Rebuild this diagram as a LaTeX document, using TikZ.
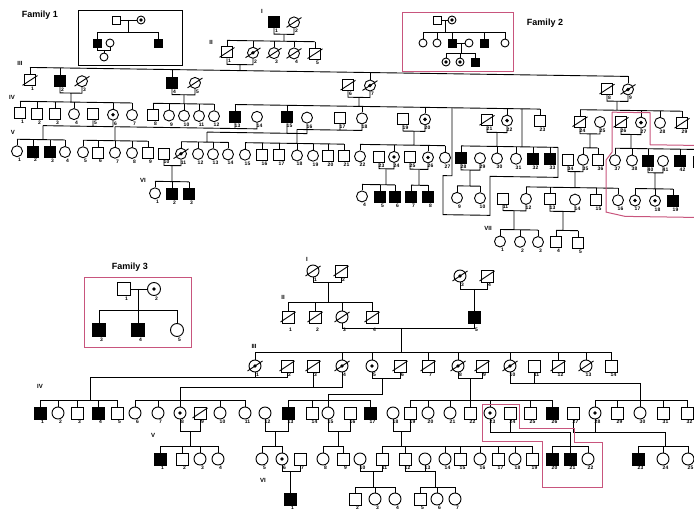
\documentclass[tikz,border=0pt]{standalone}
\usepackage{fontspec}
\setsansfont{Liberation Sans}
\usetikzlibrary{calc}
\definecolor{FamPink}{HTML}{C8557D}

\begin{document}
\begin{tikzpicture}[x=1pt, y=-1pt, line width=0.9pt, label distance=0pt,
  ind/.style={draw, inner sep=0pt, minimum size=11pt},
  m/.style={ind, rectangle},
  f/.style={ind, circle},
  ma/.style={m, fill=black},
  fc/.style={f, path picture={\fill (path picture bounding box.center) circle (1.9pt);}},
  dec/.style={append after command={([shift={(-7.5pt,-5pt)}]\tikzlastnode.center) edge ([shift={(7.5pt,5pt)}]\tikzlastnode.center)}},
  md/.style={m, dec}, fd/.style={f, dec}, fcd/.style={fc, dec},
  num/.style={font=\sffamily\bfseries\fontsize{5}{6}\selectfont, inner sep=0.6pt, xshift=2.5pt},
  gen/.style={font=\sffamily\bfseries\fontsize{6}{7}\selectfont},
  fam/.style={font=\sffamily\bfseries\fontsize{9}{10}\selectfont},
  famline/.style={FamPink, line width=1pt}]
\useasboundingbox (0,0) rectangle (694,513);
\clip (0,0) rectangle (694,513);

% ---- family 1, large pedigree (scan is a little tilted)
\begin{scope}[yslant=-0.015]
  \node[ma, label={[num]below:1}] (t1-1) at (274,18) {};
  \node[fd, label={[num]below:2}] (t1-2) at (294,18) {};
  \foreach \x/\s [count=\i] in {227/md,253/fcd,274/fd,294/fd,315/md}
    \node[\s, label={[num]below:\i}] (t2-\i) at (\x,49) {};
  \foreach \x/\s [count=\i] in {30/md,60/ma,82/fd,172/ma,195/fd,348/md,370/fcd,607/md,628/fcd}
    \node[\s, label={[num]below:\i}] (t3-\i) at (\x,80) {};
  \foreach \x/\s [count=\i] in {20/m,37/m,55/m,74/f,93/m,113/fc,132/f,153/m,169/f,184/f,199/f,214/f,
      235/ma,257/f,287/ma,307/f,340/m,362/f,403/m,425/fc,487/md,507/fc,540/m,580/md,600/f,621/md,641/fc,660/f,682/md}
    \node[\s, label={[num]below:\i}] (t4-\i) at (\x,113) {};
  \foreach \x/\s [count=\i] in {17/f,33/ma,50/ma,65/f,83/f,98/m,115/f,132/f,148/m,164/m,181/fcd,198/f,213/f,228/f,
      245/f,262/m,279/m,297/f,313/f,328/m,344/m,360/f,379/m,394/fc,410/m,428/fc,445/f,461/ma,480/f,497/f,
      516/f,533/ma,550/ma,568/m,583/f,598/m,615/f,632/f}
    \node[\s, label={[num]below:\i}] (t5-\i) at (\x,151) {};
  \foreach \x/\s/\i in {648/ma/40,663/f/41,680/ma/42}
    \node[\s, label={[num]below:\i}] (t5-\i) at (\x,151) {};
  \node[m] (t5-43) at (699,151) {};
  \foreach \x/\s [count=\i] in {155/f,172/ma,189/ma,362/f,380/ma,395/ma,411/ma,428/ma,457/f,480/f,
      503/m,526/f,550/m,575/f,596/m,618/f,635/fc,655/fc,673/ma}
    \node[\s, label={[num]below:\i}] (t6-\i) at (\x,191) {};
  \foreach \x/\s [count=\i] in {500/f,520/f,538/f,556/m,578/m}
    \node[\s, label={[num]below:\i}] (t7-\i) at (\x,234) {};

  % couples
  \foreach \d/\x/\y/\a/\b in {cI/284/30/t1-1/t1-2, cII/240/61/t2-1/t2-2,
      cIIIa/71/92/t3-2/t3-3, cIIIb/184/92/t3-4/t3-5, cIIIc/359/92/t3-6/t3-7, cIIId/617/92/t3-8/t3-9,
      cIVa/43/125/t4-5/t4-6, cIVb/115/125/t4-13/t4-14, cIVc/207/129/t4-15/t4-16, cIVd/297/125/t4-17/t4-18,
      cIVe/414/125/t4-19/t4-20, cIVf/497/125/t4-21/t4-22, cIVg/590/125/t4-24/t4-25, cIVh/631/125/t4-26/t4-27,
      cVa/172/163/t5-10/t5-11, cVb/386/163/t5-23/t5-24, cVc/419/163/t5-25/t5-26, cVd/470/163/t5-28/t5-29,
      cVe/575/163/t5-34/t5-35, cVf/655/163/t5-40/t5-41, cVIa/514/203/t6-11/t6-12, cVIb/563/203/t6-13/t6-14}
  {
    \coordinate (\d) at (\x,\y);
    \draw (\d) -| (\a) (\d) -| (\b);
  }
  % sibships
  \foreach \s/\g/\y/\xa/\xb/\d/\kids in {sII/t2/37/227/315/cI/{1,...,5}, sIII/t3/67/30/628/cII/{1,2,4,7,9},
      sIVa/t4/101/20/132/cIIIa/{1,2,3,4,6,7}, sIVb/t4/101/153/214/cIIIb/{8,...,12},
      sIVc/t4/101/235/540/cIIIc/{13,15,18,20,22,23}, sIVd/t4/101/580/682/cIIId/{24,27,28,29},
      sVa/t5/139/17/65/cIVa/{1,...,4}, sVb/t5/139/83/148/cIVb/{5,...,9}, sVc/t5/139/181/228/cIVc/{11,...,14},
      sVd/t5/139/245/344/cIVd/{15,...,21}, sVe/t5/139/360/445/cIVe/{22,24,26,27},
      sVf/t5/139/461/558/cIVf/{28,30,31,32,33}, sVg/t5/139/583/598/cIVg/{35,36},
      sVh/t5/139/615/699/cIVh/{37,38,40,42,43},
      sVIa/t6/179/155/189/cVa/{1,2,3}, sVIb/t6/179/362/395/cVb/{4,5,6}, sVIc/t6/179/411/428/cVc/{7,8},
      sVId/t6/179/457/480/cVd/{9,10}, sVIe/t6/179/526/618/cVe/{12,13,15,16}, sVIf/t6/179/635/673/cVf/{17,18,19},
      sVIIa/t7/222/500/538/cVIa/{1,2,3}, sVIIb/t7/222/556/578/cVIb/{4,5}}
  {
    \coordinate (\s-L) at (\xa,\y);
    \coordinate (\s-R) at (\xb,\y);
    \draw (\s-L) -- (\s-R) (\d) -- ($(\s-L)!(\d)!(\s-R)$);
    \foreach \k in \kids
      \draw (\g-\k) -- ($(\s-L)!(\g-\k)!(\s-R)$);
  }
  % outlines round the branch of family 2
  \draw (452,101) -- (452,169) -- (443,169) -- (443,208) -- (490,208) -- (490,169) -- (558,169) -- (558,139)
        (522,139) -- (522,101);
  \draw[famline] (612,103) -- (650,103) -- (650,135) -- (700,135)
        (612,103) -- (612,143) -- (606,151) -- (606,203) -- (625,207) -- (700,207);
\end{scope}

\node[gen] (gt1) at (262,11) {I};
\node[gen] (gt2) at (211,42) {II};
\node[gen] (gt3) at (20,63) {III};
\node[gen] (gt4) at (12,97) {IV};
\node[gen] (gt5) at (13,132) {V};
\node[gen] (gt6) at (143,180) {VI};
\node[gen] (gt7) at (488,228) {VII};

% ---- small boxes
\node[fam] (lab1) at (40,15) {Family 1};
\node[fam] (lab2) at (545,23) {Family 2};
\node[fam] (lab3) at (130,267) {Family 3};

\draw (78,10) rectangle (182,65);
\begin{scope}[ind/.append style={minimum size=8pt}]
  \node[m] (a-1) at (116,20) {};
  \node[fc] (a-2) at (141,20) {};
  \node[ma] (a-3) at (97,43) {};
  \node[f] (a-4) at (110,43) {};
  \node[ma] (a-5) at (158,43) {};
  \node[f] (a-6) at (104,57) {};
  \coordinate (a-c) at (128,20);
  \coordinate (a-s) at (128,32);
  \coordinate (a-d) at (104,50);
  \draw (a-1) -- (a-2) (a-c) -- (a-s) (a-3 |- a-s) -- (a-5 |- a-s);
  \draw (a-3) -- (a-3 |- a-s) (a-5) -- (a-5 |- a-s);
  \draw (a-d) -| (a-3) (a-d) -| (a-4) (a-d) -- (a-6);
\end{scope}

\draw[famline] (402,13) rectangle (513,72);
\begin{scope}[ind/.append style={minimum size=8pt}]
  \node[m] (e-1) at (437,20) {};
  \node[fc] (e-2) at (452,20) {};
  \foreach \x/\s [count=\i from 3] in {423/f,437/f,452/ma,469/f,484/ma,505/f}
    \node[\s] (e-\i) at (\x,43) {};
  \foreach \x/\s [count=\i from 9] in {446/fc,460/fc,475/ma}
    \node[\s] (e-\i) at (\x,62) {};
  \coordinate (e-c) at (445,20);
  \coordinate (e-s) at (445,32);
  \coordinate (e-g) at (461,43);
  \coordinate (e-t) at (461,53);
  \draw (e-1) -- (e-2) (e-c) -- (e-s) (e-3 |- e-s) -- (e-8 |- e-s);
  \foreach \k in {3,4,5,7,8} \draw (e-\k) -- (e-\k |- e-s);
  \draw (e-5) -- (e-6) (e-g) -- (e-t) (e-9 |- e-t) -- (e-11 |- e-t);
  \foreach \k in {9,10,11} \draw (e-\k) -- (e-\k |- e-t);
\end{scope}

\draw[famline] (84,278) rectangle (191,347);
\begin{scope}[ind/.append style={minimum size=13pt}]
  \node[m, label={[num]below:1}] (g-1) at (124,289) {};
  \node[fc, label={[num]below:2}] (g-2) at (154,289) {};
  \node[ma, label={[num]below:3}] (g-3) at (99,330) {};
  \node[ma, label={[num]below:4}] (g-4) at (138,330) {};
  \node[f, label={[num]below:5}] (g-5) at (177,330) {};
  \coordinate (g-c) at (138,289);
  \coordinate (g-s) at (138,310);
  \draw (g-1) -- (g-2) (g-c) -- (g-s) (g-3 |- g-s) -- (g-5 |- g-s);
  \foreach \k in {3,4,5} \draw (g-\k) -- (g-\k |- g-s);
\end{scope}

% ---- family 3, large pedigree
\begin{scope}[ind/.append style={minimum size=12pt}]
  \node[fd, label={[num]below:1}] (b1-1) at (313,271) {};
  \node[md, label={[num]below:2}] (b1-2) at (341,271) {};
  \node[fcd, label={[num]below:3}] (b1-3) at (460,276) {};
  \node[md, label={[num]below:4}] (b1-4) at (487,276) {};
  \foreach \x/\s [count=\i] in {288/md,315/md,342/fd,372/md,474/ma}
    \node[\s, label={[num, yshift=-4pt]below:\i}] (b2-\i) at (\x,317) {};
  \foreach \x/\s [count=\i] in {255/fcd,287/md,313/md,342/fcd,372/fc,400/md,428/md,458/fcd,482/md,510/fcd,
      534/m,558/md,586/fd,611/m}
    \node[\s, label={[num]below:\i}] (b3-\i) at (\x,366) {};
  \foreach \x/\s [count=\i] in {40/ma,58/f,77/m,98/ma,117/m,135/f,158/f,180/fc,200/md,220/f,245/f,265/f,
      288/ma,312/m,328/f,350/m,370/ma,393/f,410/m,428/f,450/f,470/m,490/fc,510/m,530/m,552/ma,
      573/m,595/fc,617/m,640/f,663/m,687/m}
    \node[\s, label={[num]below:\i}] (b4-\i) at (\x,413) {};
  \foreach \x/\s [count=\i] in {160/ma,182/m,200/f,218/f,262/f,282/fc,300/m,323/f,343/m,360/f,382/m,405/m,
      425/f,445/f,460/m,480/f,498/m,515/f,532/m,552/ma,570/ma,588/f,638/ma,663/f,688/f}
    \node[\s, label={[num]below:\i}] (b5-\i) at (\x,459) {};
  \foreach \x/\s [count=\i] in {290/ma,355/m,375/f,395/f,420/m,437/f,455/f}
    \node[\s, label={[num]below:\i}] (b6-\i) at (\x,499) {};

  % couples
  \foreach \d/\x/\y/\a/\b in {bI1/328/282/b1-1/b1-2, bI2/474/289/b1-3/b1-4, bII/401/328/b2-3/b2-5,
      bIIIa/90/377/b3-1/b3-2, bIIIb/180/387/b3-3/b3-4, bIIIc/382/378/b3-5/b3-6,
      bIIId/470/378/b3-8/b3-9, bIIIe/640/383/b3-10/b3-11,
      bIVa/190/431/b4-8/b4-9, bIVb/275/431/b4-12/b4-13, bIVc/338/431/b4-15/b4-16,
      bIVd/401/431/b4-18/b4-19, bIVe/570/432/b4-23/b4-24, bIVf/665/432/b4-27/b4-28,
      bVa/290/471/b5-6/b5-7, bVb/373/471/b5-10/b5-11, bVc/435/471/b5-12/b5-13}
  {
    \coordinate (\d) at (\x,\y);
    \draw (\d) -| (\a) (\d) -| (\b);
  }
  \coordinate (jIIIc) at (328,394);
  \draw (bIIIc) |- (jIIIc);
  \draw (bI2) -- (b2-5) (bVa) -- (b6-1);
  % sibships
  \foreach \s/\g/\y/\xa/\xb/\d/\kids in {sbII/b2/302/288/372/bI1/{1,...,4},
      sbIII/b3/352/255/611/bII/{1,4,5,7,8,10,12,13,14},
      sbIVa/b4/400/40/117/bIIIa/{1,...,5}, sbIVb/b4/400/135/245/bIIIb/{6,7,8,10,11},
      sbIVc/b4/400/288/370/jIIIc/{13,14,15,17}, sbIVd/b4/400/410/552/bIIId/{19,20,21,22,23,25,26},
      sbIVe/b4/400/595/687/bIIIe/{28,...,32},
      sbVa/b5/446/160/218/bIVa/{1,...,4}, sbVb/b5/446/262/282/bIVb/{5,6}, sbVc/b5/446/323/343/bIVc/{8,9},
      sbVd/b5/446/382/532/bIVd/{11,12,14,15,16,17,18,19}, sbVe/b5/446/552/588/bIVe/{20,21,22},
      sbVf/b5/446/638/688/bIVf/{23,24,25},
      sbVIa/b6/487/355/395/bVb/{2,3,4}, sbVIb/b6/487/420/455/bVc/{5,6,7}}
  {
    \coordinate (\s-L) at (\xa,\y);
    \coordinate (\s-R) at (\xb,\y);
    \draw (\s-L) -- (\s-R) (\d) -- ($(\s-L)!(\d)!(\s-R)$);
    \foreach \k in \kids
      \draw (\g-\k) -- ($(\s-L)!(\g-\k)!(\s-R)$);
  }
  \draw[famline] (482,404) -- (519,404) -- (519,428) -- (574,428) -- (574,442) -- (602,442)
        -- (602,487) -- (542,487) -- (542,441) -- (482,441) -- cycle;
\end{scope}

\node[gen] (gb1) at (307,259) {I};
\node[gen] (gb2) at (283,297) {II};
\node[gen] (gb3) at (254,346) {III};
\node[gen] (gb4) at (40,386) {IV};
\node[gen] (gb5) at (153,435) {V};
\node[gen] (gb6) at (263,480) {VI};
\end{tikzpicture}
\end{document}
